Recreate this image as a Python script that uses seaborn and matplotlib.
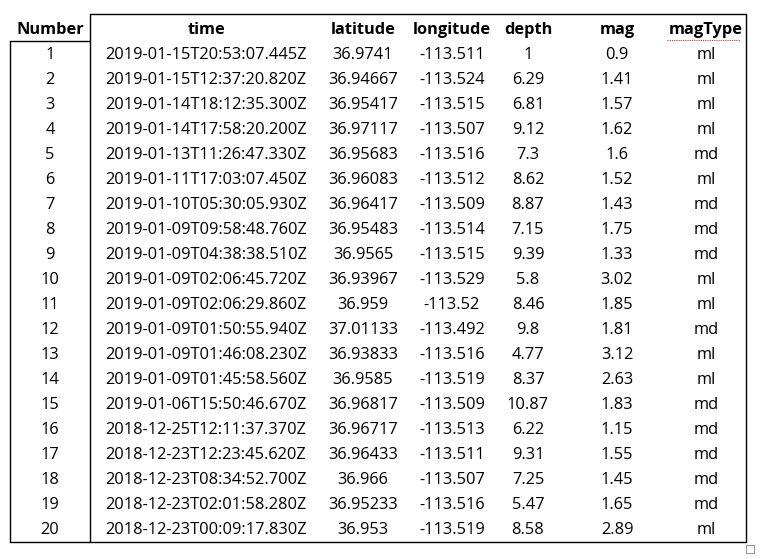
import matplotlib
matplotlib.use("Agg")
import matplotlib.pyplot as plt
import seaborn as sns
from matplotlib.patches import Rectangle

sns.set_theme(style="white")

columns = ["Number", "time", "latitude", "longitude", "depth", "mag", "magType"]
numbers = list(range(1, 21))
times = ["2019-01-15T20:53:07.445Z", "2019-01-15T12:37:20.820Z", "2019-01-14T18:12:35.300Z",
         "2019-01-14T17:58:20.200Z", "2019-01-13T11:26:47.330Z", "2019-01-11T17:03:07.450Z",
         "2019-01-10T05:30:05.930Z", "2019-01-09T09:58:48.760Z", "2019-01-09T04:38:38.510Z",
         "2019-01-09T02:06:45.720Z", "2019-01-09T02:06:29.860Z", "2019-01-09T01:50:55.940Z",
         "2019-01-09T01:46:08.230Z", "2019-01-09T01:45:58.560Z", "2019-01-06T15:50:46.670Z",
         "2018-12-25T12:11:37.370Z", "2018-12-23T12:23:45.620Z", "2018-12-23T08:34:52.700Z",
         "2018-12-23T02:01:58.280Z", "2018-12-23T00:09:17.830Z"]
latitudes = ["36.9741", "36.94667", "36.95417", "36.97117", "36.95683", "36.96083", "36.96417",
             "36.95483", "36.9565", "36.93967", "36.959", "37.01133", "36.93833", "36.9585",
             "36.96817", "36.96717", "36.96433", "36.966", "36.95233", "36.953"]
longitudes = ["-113.511", "-113.524", "-113.515", "-113.507", "-113.516", "-113.512", "-113.509",
              "-113.514", "-113.515", "-113.529", "-113.52", "-113.492", "-113.516", "-113.519",
              "-113.509", "-113.513", "-113.511", "-113.507", "-113.516", "-113.519"]
depths = ["1", "6.29", "6.81", "9.12", "7.3", "8.62", "8.87", "7.15", "9.39", "5.8", "8.46",
          "9.8", "4.77", "8.37", "10.87", "6.22", "9.31", "7.25", "5.47", "8.58"]
mags = ["0.9", "1.41", "1.57", "1.62", "1.6", "1.52", "1.43", "1.75", "1.33", "3.02", "1.85",
        "1.81", "3.12", "2.63", "1.83", "1.15", "1.55", "1.45", "1.65", "2.89"]
magtypes = ["ml", "ml", "ml", "ml", "md", "ml", "md", "md", "md", "ml", "ml", "md", "ml", "ml",
            "md", "md", "md", "md", "md", "ml"]

W, H = 762, 559
fig = plt.figure(figsize=(W / 100, H / 100), dpi=100)
ax = fig.add_axes([0, 0, 1, 1])
ax.set_xlim(0, W)
ax.set_ylim(H, 0)
ax.axis("off")

col_x = [50, 206, 363, 452, 528, 617, 706]
font = "Open Sans"
fs = 11.8
for c, x in zip(columns, col_x):
    ax.text(x, 30, c, ha="center", va="center", fontsize=fs, fontweight="bold",
            family=font, color="black")
rows = list(zip(numbers, times, latitudes, longitudes, depths, mags, magtypes))
for i, r in enumerate(rows):
    y = 55 + i * 25
    for v, x in zip(r, col_x):
        ax.text(x, y, str(v), ha="center", va="center", fontsize=fs, family=font, color="black")

lw = 1.0
ax.plot([90, 746], [14, 14], color="black", lw=lw)
ax.plot([10, 90], [41, 41], color="black", lw=lw)
ax.plot([10, 10], [41, 542], color="black", lw=lw)
ax.plot([90, 90], [14, 542], color="black", lw=lw)
ax.plot([746, 746], [14, 542], color="black", lw=lw)
ax.plot([10, 746], [542, 542], color="black", lw=lw)
ax.add_patch(Rectangle((746, 545), 8, 8, fill=False, edgecolor="#999999", lw=0.8))
ax.plot([667, 740], [40, 40], color="#cc3333", lw=0.8, ls=(0, (1, 1)))

fig.savefig("out.png", dpi=100)
